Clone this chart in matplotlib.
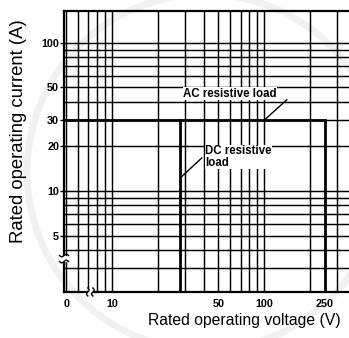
import matplotlib
matplotlib.use("Agg")
import matplotlib.pyplot as plt
from matplotlib.lines import Line2D
from matplotlib.patches import Ellipse, Rectangle
from matplotlib.transforms import IdentityTransform
import numpy as np

# log grid of the rating chart
voltage_grid = [5, 6, 7, 8, 9, 10, 20, 30, 40, 50, 60, 70, 80, 90, 100, 200, 300]
current_grid = [3, 4, 5, 6, 7, 8, 9, 10, 20, 30, 40, 50, 60, 70, 80, 90, 100]

voltage_ticks = [5, 10, 50, 100, 250]
voltage_labels = ["0", "10", "50", "100", "250"]
current_ticks = [5, 10, 20, 30, 50, 100]
current_labels = ["5", "10", "20", "30", "50", "100"]

# rating limits
rated_current = 30
ac_voltage_max = 250
dc_voltage_max = 28

x_min, x_max = 4.83, 362
y_min, y_max = 2.08, 164

plt.rcParams["font.family"] = ["Liberation Sans", "DejaVu Sans"]

W, H = 349, 338
fig = plt.figure(figsize=(W / 100, H / 100), dpi=100)
ax = fig.add_axes([64 / W, 46 / H, 1 - 64 / W, 281 / H])
ax.set_xscale("log")
ax.set_yscale("log")
ax.set_xlim(x_min, x_max)
ax.set_ylim(y_min, y_max)
ax.patch.set_alpha(0)

# faint seal in the background
fig.patches.append(Ellipse((205 / W, 1 - 172 / H), 2 * 178 / W, 2 * 178 / H,
                           transform=fig.transFigure, fill=False,
                           ec="#f1f1f1", lw=5, zorder=-5))

ax.vlines(voltage_grid, y_min, y_max, color="black", lw=1.05, zorder=2)
ax.hlines(current_grid, x_min, x_max, color="black", lw=1.05, zorder=2)

# AC and DC limit lines
ax.plot([x_min, ac_voltage_max, ac_voltage_max], [rated_current, rated_current, y_min],
        color="black", lw=2.0, zorder=3, solid_joinstyle="miter")
ax.plot([dc_voltage_max, dc_voltage_max], [rated_current, y_min],
        color="black", lw=2.0, zorder=3)

ax.text(29.3, 45.2, "AC resistive load", fontsize=8.3, fontweight="bold",
        ha="left", va="center", zorder=4,
        bbox=dict(facecolor="white", edgecolor="none", pad=0.3))
ax.plot([141, 100], [41.2, 30], color="black", lw=1.0, zorder=4)

ax.text(40.9, 16.9, "DC resistive\nload", fontsize=8.3, fontweight="bold",
        ha="left", va="center", linespacing=0.95, zorder=4,
        bbox=dict(facecolor="white", edgecolor="none", pad=0.3))
ax.plot([38.9, 28.7], [16.7, 12.5], color="black", lw=1.0, zorder=4)

ax.set_xticks(voltage_ticks)
ax.set_xticklabels(voltage_labels)
ax.set_yticks(current_ticks)
ax.set_yticklabels(current_labels)
ax.minorticks_off()
ax.tick_params(axis="x", length=0, pad=5, labelsize=7.8)
ax.tick_params(axis="y", length=3, width=1.0, pad=0.5, labelsize=7.8)
for lab in ax.get_xticklabels() + ax.get_yticklabels():
    lab.set_fontweight("bold")

for side in ["left", "bottom", "top"]:
    ax.spines[side].set_linewidth(1.6)
ax.spines["right"].set_visible(False)

ax.text(0.632, -0.075, "Rated operating voltage (V)", transform=ax.transAxes,
        fontsize=11.3, ha="center", va="top")
ax.text(-0.158, 0.571, "Rated operating current (A)", transform=ax.transAxes,
        fontsize=13.3, ha="center", va="center", rotation=90)

# axis break marks
ident = IdentityTransform()
t = np.linspace(-1, 1, 20)
px, py = ax.transData.transform((x_min, 3.5))
fig.patches.append(Rectangle((px - 4, py - 3), 8, 6, transform=ident,
                             fc="white", ec="none", zorder=5))
for dy in (-3, 3):
    fig.lines.append(Line2D(px + 4.5 * t, py + dy + 1.3 * np.sin(np.pi * t),
                            transform=ident, color="black", lw=1.0, zorder=6))
qx, qy = ax.transData.transform((7.2, y_min))
fig.patches.append(Rectangle((qx - 2.5, qy - 4), 5, 8, transform=ident,
                             fc="white", ec="none", zorder=5))
for dx in (-2.5, 2.5):
    fig.lines.append(Line2D(qx + dx + 1.3 * np.sin(np.pi * t), qy + 4 * t,
                            transform=ident, color="black", lw=1.0, zorder=6))

fig.savefig("out.png", dpi=100)
